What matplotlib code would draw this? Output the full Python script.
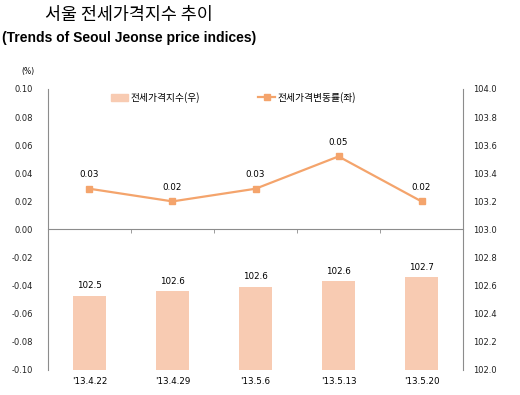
import matplotlib.pyplot as plt
import numpy as np
from matplotlib.patches import Patch
from matplotlib.lines import Line2D

# data
dates = ["'13.4.22", "'13.4.29", "'13.5.6", "'13.5.13", "'13.5.20"]
change_rate = [0.029, 0.020, 0.029, 0.052, 0.020]   # left axis (%)
price_index = [102.53, 102.56, 102.59, 102.63, 102.66]  # right axis

bar_color = "#F8CBB2"
line_color = "#F4A46C"
spine_color = "#8C8C8C"
kr = ["Noto Sans CJK KR", "DejaVu Sans"]

plt.rcParams['font.family'] = ['DejaVu Sans', 'Noto Sans CJK KR']

fig = plt.figure(figsize=(5.2, 3.95), dpi=100)
ax = fig.add_axes([0.0923, 0.0633, 0.7981, 0.7114])
ax2 = ax.twinx()
x = np.arange(len(dates))

# bars on the right axis (behind)
ax2.bar(x, price_index, width=0.4, color=bar_color, zorder=1)
for xi, v in zip(x, price_index):
    ax2.text(xi, v + 0.04, f"{v:.1f}", ha="center", va="bottom", fontsize=6.3)
ax2.set_ylim(102.0, 104.0)
ax2.set_yticks(np.arange(102.0, 104.01, 0.2))
ax2.set_yticklabels([f"{t:.1f}" for t in np.arange(102.0, 104.01, 0.2)])

# line on the left axis (front)
ax.set_zorder(ax2.get_zorder() + 1)
ax.patch.set_visible(False)
ax.plot(x, change_rate, color=line_color, linewidth=1.6, marker="s",
        markersize=5, zorder=3)
for xi, v in zip(x, change_rate):
    ax.text(xi, v + 0.007, f"{v:.2f}", ha="center", va="bottom", fontsize=6.3)
ax.set_ylim(-0.10, 0.10)
ax.set_yticks(np.arange(-0.10, 0.101, 0.02))
ax.set_yticklabels([f"{t:.2f}" for t in np.arange(-0.10, 0.101, 0.02)])
ax.set_xlim(-0.5, len(dates) - 0.5)

# zero line with category-boundary ticks
ax.spines["bottom"].set_position(("data", 0))
ax.spines["bottom"].set_color(spine_color)
ax.set_xticks(x)
ax.set_xticklabels(dates)
ax.set_xticks(x[:-1] + 0.5, minor=True)
ax.tick_params(axis="x", which="major", length=0, labelbottom=False)
ax.tick_params(axis="x", which="minor", length=3, direction="out", color=spine_color)

# category labels at the bottom via the twin axis
ax2.xaxis.set_visible(True)
ax2.tick_params(axis="x", which="both", length=0, labelbottom=True,
                labelsize=6.3, pad=5)

for a in (ax, ax2):
    a.spines["top"].set_visible(False)
    a.spines["left"].set_color(spine_color)
    a.spines["right"].set_color(spine_color)
ax2.spines["bottom"].set_visible(False)
ax.spines["right"].set_visible(False)
ax2.spines["left"].set_visible(False)

ax.tick_params(axis="y", length=0, labelsize=6, pad=11, labelcolor="#222222")
ax2.tick_params(axis="y", length=0, labelsize=6, pad=7, labelcolor="#222222")

handles = [Patch(color=bar_color),
           Line2D([0], [0], color=line_color, linewidth=1.6, marker="s", markersize=5)]
ax.legend(handles, ["전세가격지수(우)", "전세가격변동률(좌)"], ncol=2, frameon=False,
          loc="center left", bbox_to_anchor=(0.13, 0.97), prop={"family": kr, "size": 7},
          handlelength=1.8, handletextpad=0.2, columnspacing=6.0)

fig.text(0.248, 0.962, "서울 전세가격지수 추이", ha="center", va="center",
         fontsize=12.5, family=kr)
fig.text(0.004, 0.905, "(Trends of Seoul Jeonse price indices)", ha="left",
         va="center", fontsize=10, fontweight="bold", family="Liberation Sans")
fig.text(0.042, 0.82, "(%)", ha="left", va="center", fontsize=5.5)

fig.savefig("out.png", dpi=100)
